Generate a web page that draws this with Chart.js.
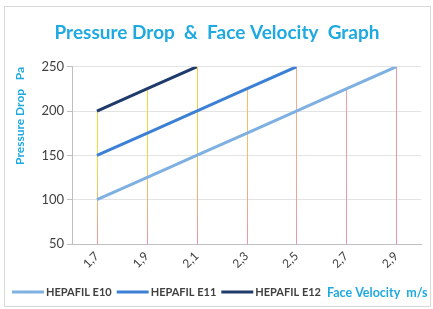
<!DOCTYPE html>
<html>
<head>
<meta charset="utf-8">
<script src="https://cdn.jsdelivr.net/npm/chart.js@4/dist/chart.umd.min.js"></script>
<style>
  html, body { margin: 0; padding: 0; background: #fff; }
  #wrap { width: 433px; height: 309px; }
</style>
</head>
<body>
<div id="wrap"><canvas id="cnv" width="433" height="309"></canvas></div>
<script>
(function(){

    var velocities = ["1,7", "1,9", "2,1", "2,3", "2,5", "2,7", "2,9"];
    var e10 = [100, 125, 150, 175, 200, 225, 250];
    var e11 = [150, 175, 200, 225, 250, null, null];
    var e12 = [200, 225, 250, null, null, null, null];
    var seriesNames = ["HEPAFIL E10", "HEPAFIL E11", "HEPAFIL E12"];
    var seriesColors = ["#7eb0e2", "#3c80d6", "#1f3b6b"];
    var yTicks = [50, 100, 150, 200, 250];

    var cyan = "#1fa9e1";
    var fontName = "Lato, 'Open Sans', sans-serif";
    var dropTops = ["#f0dc3a", "#f0d940", "#f2cf48", "#f5bf6a", "#f2ae8c", "#ef9faa", "#ec98a8"];

    // frame + drop lines + bottom legend
    var extras = {
        id: "extras",
        beforeDatasetsDraw: function(chart){
            var ctx = chart.ctx, x = chart.scales.x, y = chart.scales.y;
            ctx.save();
            ctx.lineWidth = 1;
            for (var i = 0; i < velocities.length; i++) {
                var top = null;
                chart.data.datasets.forEach(function(ds){
                    var v = ds.data[i];
                    if (v != null && (top == null || v > top)) top = v;
                });
                if (top == null) continue;
                var px = Math.round(x.getPixelForValue(i)) + 0.5;
                var py = y.getPixelForValue(top);
                var pb = y.getPixelForValue(y.min);
                var g = ctx.createLinearGradient(0, py, 0, pb);
                g.addColorStop(0, dropTops[i]);
                g.addColorStop(0.4, dropTops[i]);
                g.addColorStop(1, "#ee94a8");
                ctx.strokeStyle = g;
                ctx.beginPath();
                ctx.moveTo(px, py);
                ctx.lineTo(px, pb);
                ctx.stroke();
            }
            ctx.restore();
        },
        afterDraw: function(chart){
            var ctx = chart.ctx;
            ctx.save();
            ctx.strokeStyle = "#d9d9d9";
            ctx.lineWidth = 1;
            ctx.strokeRect(4.5, 6.5, 426, 300);

            var yy = 292;
            var cx = 12;
            ctx.textBaseline = "middle";
            ctx.textAlign = "left";
            ctx.font = "bold 11px " + fontName;
            chart.data.datasets.forEach(function(ds){
                ctx.strokeStyle = ds.borderColor;
                ctx.lineWidth = 3;
                ctx.beginPath();
                ctx.moveTo(cx, yy);
                ctx.lineTo(cx + 32, yy);
                ctx.stroke();
                cx += 34;
                ctx.fillStyle = "#404040";
                ctx.fillText(ds.label, cx, yy);
                cx += ctx.measureText(ds.label).width + 5;
            });
            ctx.fillStyle = cyan;
            ctx.font = "bold 12.5px " + fontName;
            ctx.fillText("Face Velocity  m/s", cx + 1, yy + 1);
            ctx.restore();
        }
    };

    var data = {
        labels: velocities,
        datasets: [
            { label: seriesNames[0], data: e10, borderColor: seriesColors[0] },
            { label: seriesNames[1], data: e11, borderColor: seriesColors[1] },
            { label: seriesNames[2], data: e12, borderColor: seriesColors[2] }
        ].map(function(d){
            d.borderWidth = 3;
            d.pointRadius = 0;
            d.fill = false;
            d.tension = 0;
            d.spanGaps = false;
            return d;
        })
    };

    var myChart = new Chart(document.getElementById("cnv"), {
        type: "line",
        data: data,
        plugins: [extras],
        options: {
            responsive: false,
            animation: false,
            layout: { padding: { left: 13, right: 12, top: 8, bottom: 33 } },
            plugins: {
                legend: { display: false },
                tooltip: { enabled: false },
                title: {
                    display: true,
                    text: "Pressure Drop  &  Face Velocity  Graph",
                    color: cyan,
                    font: { family: fontName, size: 19, weight: "bold" },
                    padding: { top: 13, bottom: 23 }
                }
            },
            scales: {
                x: {
                    offset: true,
                    grid: { display: false, drawTicks: false },
                    border: { color: "#bfbfbf" },
                    ticks: {
                        color: "#404040",
                        font: { family: fontName, size: 12 },
                        minRotation: 45,
                        maxRotation: 45,
                        padding: 5
                    }
                },
                y: {
                    min: 50,
                    max: 250,
                    afterBuildTicks: function(s){
                        s.ticks = yTicks.map(function(v){ return { value: v }; });
                    },
                    afterFit: function(s){ s.width = 59; },
                    grid: { color: "#e3e3e3", tickLength: 5, tickColor: "#bfbfbf" },
                    border: { color: "#bfbfbf" },
                    ticks: {
                        color: "#404040",
                        font: { family: fontName, size: 13 },
                        padding: 3
                    },
                    title: {
                        display: true,
                        text: "Pressure Drop   Pa",
                        color: cyan,
                        align: "end",
                        font: { family: fontName, size: 12, weight: "bold" },
                        padding: { top: 0, bottom: 4 }
                    }
                }
            }
        }
    });

})();
</script>
</body>
</html>
